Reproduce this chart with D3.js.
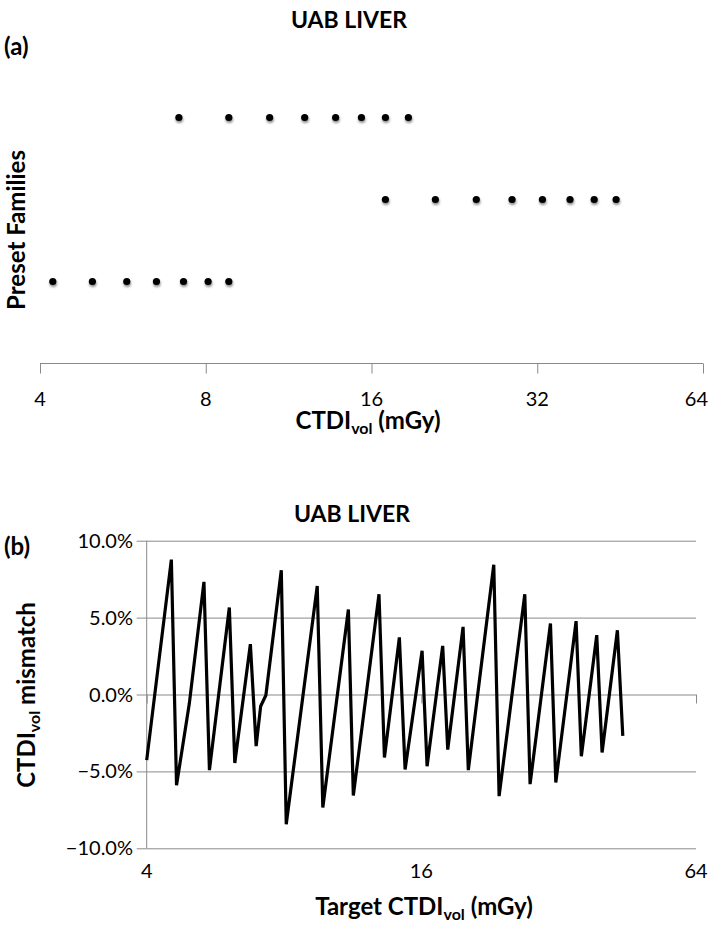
<!DOCTYPE html>
<html>
<head>
<meta charset="utf-8">
<script src="https://d3js.org/d3.v7.min.js"></script>
<style>
  body { margin: 0; background: #fff; }
  svg text { font-family: Lato, "Open Sans", sans-serif; fill: #000; }
  .title { font-weight: bold; font-size: 23px; }
  .label { font-weight: bold; font-size: 24px; }
  .tick-label { font-size: 20px; }
</style>
</head>
<body>
<svg width="709" height="932"></svg>
<script>
// Panel (a): preset families, CTDIvol of each preset (mGy)
var familyRows = [1, 2, 3];
var familyLow = [4.22, 4.98, 5.75, 6.51, 7.29, 8.08, 8.81];
var familyHigh = [16.96, 20.9, 24.8, 28.8, 32.7, 36.7, 40.6, 44.5];
var familyMid = [7.15, 8.81, 10.45, 12.1, 13.77, 15.34, 16.96, 18.67];
var doseTicks = [4, 8, 16, 32, 64];

// Panel (b): mismatch vs target CTDIvol
var targetDose = [4.0, 4.53, 4.65, 4.96, 5.34, 5.49, 6.07, 6.24, 6.75, 6.95, 7.11, 7.30,
  7.89, 8.09, 9.46, 9.73, 11.07, 11.35, 12.92, 13.28, 14.32, 14.74, 16.06, 16.47,
  17.82, 18.28, 19.75, 20.28, 23.06, 23.69, 26.97, 27.70, 30.70, 31.54, 34.94, 35.88,
  38.78, 39.84, 43.04, 44.23];
var mismatch = [-4.27, 8.77, -5.9, -0.59, 7.32, -4.92, 5.66, -4.45, 3.27, -3.36, -0.76, -0.05,
  8.08, -8.44, 7.06, -7.35, 5.53, -6.57, 6.52, -4.10, 3.71, -4.88, 2.84, -4.66,
  3.16, -3.58, 4.40, -4.92, 8.44, -6.61, 6.52, -5.83, 4.62, -5.72, 4.77, -4.01,
  3.86, -3.77, 4.18, -2.69];
var targetTicks = [4, 16, 64];
var mismatchTicks = [-10, -5, 0, 5, 10];

var svg = d3.select('svg');
var axisGrey = '#8a8a8a';

// soft shadow under the markers
var defs = svg.append('defs');
var shadow = defs.append('filter').attr('id', 'shadow')
  .attr('x', '-100%').attr('y', '-100%').attr('width', '300%').attr('height', '300%');
shadow.append('feDropShadow')
  .attr('dx', 0.5).attr('dy', 2).attr('stdDeviation', 1.3)
  .attr('flood-color', '#000').attr('flood-opacity', 0.45);

// ---------- panel (a) ----------
var xA = d3.scaleLog().base(2).domain([4, 64]).range([40, 703]);
var yA = d3.scaleLinear().domain([0, 4]).range([363.5, 35.5]);

svg.append('text').attr('class', 'title')
  .attr('x', 349).attr('y', 28).attr('text-anchor', 'middle')
  .text('UAB LIVER');
svg.append('text').attr('class', 'label')
  .attr('x', 4).attr('y', 55).text('(a)');

var axisA = d3.axisBottom(xA).tickValues(doseTicks).tickSize(10).tickFormat('');
var gA = svg.append('g').attr('transform', 'translate(0,' + yA(0) + ')').call(axisA);
gA.select('.domain').attr('stroke', axisGrey).attr('d', 'M40,0H703');
gA.selectAll('.tick line').attr('stroke', axisGrey);

svg.selectAll('.xa-label').data(doseTicks).enter().append('text')
  .attr('class', 'tick-label xa-label')
  .attr('x', function(d, i) { return i === doseTicks.length - 1 ? 708 : xA(d); })
  .attr('y', 406)
  .attr('text-anchor', function(d, i) { return i === doseTicks.length - 1 ? 'end' : 'middle'; })
  .text(function(d) { return d; });

var titleA = svg.append('text').attr('class', 'label')
  .attr('x', 368).attr('y', 429).attr('text-anchor', 'middle');
titleA.append('tspan').text('CTDI');
titleA.append('tspan').attr('font-size', 16).attr('dy', 5).text('vol');
titleA.append('tspan').attr('dy', -5).text(' (mGy)');

svg.append('text').attr('class', 'label')
  .attr('transform', 'translate(25,230)rotate(-90)')
  .attr('text-anchor', 'middle')
  .text('Preset Families');

var rows = [
  { row: familyRows[0], values: familyLow },
  { row: familyRows[1], values: familyHigh },
  { row: familyRows[2], values: familyMid }
];
var points = [];
rows.forEach(function(r) {
  r.values.forEach(function(v) { points.push({ dose: v, row: r.row }); });
});
svg.append('g').selectAll('circle').data(points).enter().append('circle')
  .attr('cx', function(d) { return xA(d.dose); })
  .attr('cy', function(d) { return yA(d.row); })
  .attr('r', 3.6)
  .attr('fill', '#000')
  .attr('filter', 'url(#shadow)');

// ---------- panel (b) ----------
var xB = d3.scaleLog().base(2).domain([4, 64]).range([146.7, 696]);
var yB = d3.scaleLinear().domain([-10, 10]).range([848.3, 540.7]);

svg.append('text').attr('class', 'title')
  .attr('x', 352).attr('y', 522).attr('text-anchor', 'middle')
  .text('UAB LIVER');
svg.append('text').attr('class', 'label')
  .attr('x', 4).attr('y', 555).text('(b)');

// horizontal grid with left ticks
var gridB = d3.axisLeft(yB).tickValues(mismatchTicks)
  .tickSize(-(696 - 146.7)).tickFormat('');
var gGrid = svg.append('g').attr('transform', 'translate(146.7,0)').call(gridB);
gGrid.select('.domain').remove();
gGrid.selectAll('.tick line').attr('stroke', axisGrey).attr('x1', -10);

// vertical axis line
svg.append('line')
  .attr('x1', 146.7).attr('x2', 146.7)
  .attr('y1', yB(10)).attr('y2', yB(-10))
  .attr('stroke', axisGrey);

// horizontal axis sits on 0%, ticks pointing down
var axisB = d3.axisBottom(xB).tickValues(targetTicks).tickSize(9).tickFormat('');
var gB = svg.append('g').attr('transform', 'translate(0,' + yB(0) + ')').call(axisB);
gB.select('.domain').remove();
gB.selectAll('.tick line').attr('stroke', axisGrey);

svg.selectAll('.yb-label').data(mismatchTicks).enter().append('text')
  .attr('class', 'tick-label yb-label')
  .attr('x', 133)
  .attr('y', function(d) { return yB(d) + 7; })
  .attr('text-anchor', 'end')
  .text(function(d) { return d3.format('.1f')(d) + '%'; });

svg.selectAll('.xb-label').data(targetTicks).enter().append('text')
  .attr('class', 'tick-label xb-label')
  .attr('x', function(d) { return xB(d); })
  .attr('y', 878)
  .attr('text-anchor', 'middle')
  .text(function(d) { return d; });

var titleB = svg.append('text').attr('class', 'label')
  .attr('x', 424).attr('y', 915).attr('text-anchor', 'middle');
titleB.append('tspan').text('Target CTDI');
titleB.append('tspan').attr('font-size', 16).attr('dy', 5).text('vol');
titleB.append('tspan').attr('dy', -5).text(' (mGy)');

var yTitleB = svg.append('text').attr('class', 'label')
  .attr('transform', 'translate(35,695)rotate(-90)')
  .attr('text-anchor', 'middle');
yTitleB.append('tspan').text('CTDI');
yTitleB.append('tspan').attr('font-size', 16).attr('dy', 5).text('vol');
yTitleB.append('tspan').attr('dy', -5).text(' mismatch');

var lineData = targetDose.map(function(d, i) { return { dose: d, mis: mismatch[i] }; });
var line = d3.line()
  .x(function(d) { return xB(d.dose); })
  .y(function(d) { return yB(d.mis); });
svg.append('path').datum(lineData)
  .attr('d', line)
  .attr('fill', 'none')
  .attr('stroke', '#000')
  .attr('stroke-width', 3.2)
  .attr('stroke-linejoin', 'miter')
  .attr('stroke-miterlimit', 10);
</script>
</body>
</html>
